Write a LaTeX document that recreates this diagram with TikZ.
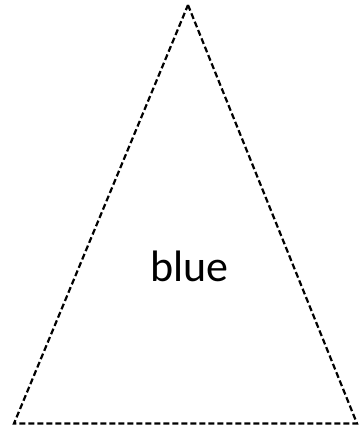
\documentclass[tikz,border=0pt]{standalone}
\usepackage{fontspec}
\setmainfont{Carlito}
\begin{document}
\begin{tikzpicture}[x=1pt,y=1pt,
  tri/.style={draw=black,line width=2.2pt,dash pattern=on 6pt off 3pt,line join=miter},
  lbl/.style={font=\fontsize{44}{52}\selectfont,anchor=base,inner sep=0pt}]
\useasboundingbox (0,0) rectangle (360,430);
\coordinate (apex) at (188,425);
\coordinate (bl) at (14,6.5);
\coordinate (br) at (357,6.5);
\draw[tri] (apex) -- (br) -- (bl) -- cycle;
\node[lbl] (label) at (189.5,148) {blue};
\end{tikzpicture}
\end{document}
